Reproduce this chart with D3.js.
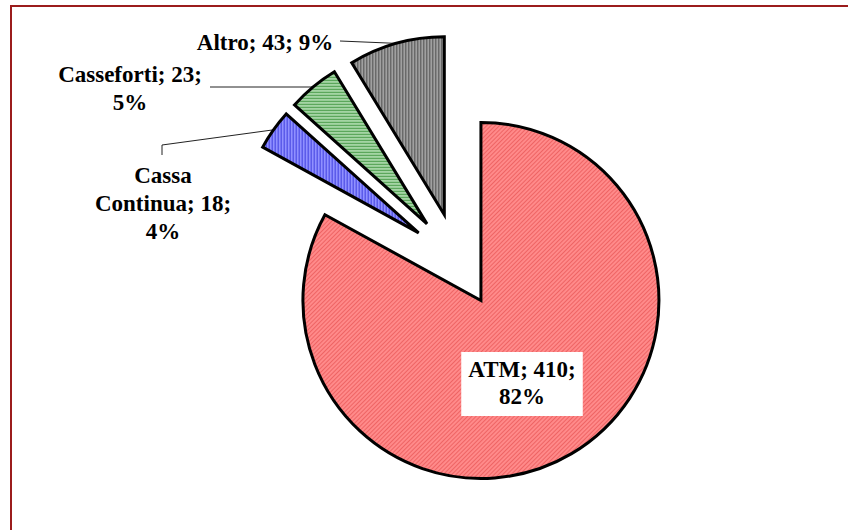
<!DOCTYPE html>
<html>
<head>
<meta charset="utf-8">
<script src="https://cdn.jsdelivr.net/npm/d3@7"></script>
<style>
  body { margin: 0; background: #fff; }
  svg { display: block; }
  .lbl { font-family: "Liberation Serif", "Times New Roman", serif; font-weight: bold; font-size: 23px; fill: #000; }
</style>
</head>
<body>
<svg id="chart"></svg>
<script>
const categories = ["ATM", "Cassa Continua", "Casseforti", "Altro"];
const values = [410, 18, 23, 43];
const percentLabels = ["82%", "4%", "5%", "9%"];

const W = 848, H = 530;
const cx = 457, cy = 260, radius = 178, explode = 47;

const svg = d3.select("#chart").attr("width", W).attr("height", H);

// hatch patterns, one per slice
const defs = svg.append("defs");
const addPattern = (id, base, line, dir) => {
  const p = defs.append("pattern")
    .attr("id", id)
    .attr("patternUnits", "userSpaceOnUse")
    .attr("width", 3).attr("height", 3);
  if (dir === "diag") p.attr("patternTransform", "rotate(45)");
  p.append("rect").attr("width", 3).attr("height", 3).attr("fill", base);
  if (dir === "h") {
    p.append("rect").attr("width", 3).attr("height", 1).attr("fill", line);
  } else {
    p.append("rect").attr("width", 1).attr("height", 3).attr("fill", line);
  }
};
addPattern("pat0", "#ff8a8a", "#ee6464", "diag");
addPattern("pat1", "#9090ff", "#4040e0", "v");
addPattern("pat2", "#a4d4a4", "#4f9f4f", "h");
addPattern("pat3", "#a0a0a0", "#505050", "v");

// frame
svg.append("rect")
  .attr("x", 11).attr("y", 6)
  .attr("width", W).attr("height", H)
  .attr("fill", "none")
  .attr("stroke", "#9b1c1c")
  .attr("stroke-width", 2);

const pie = d3.pie().sort(null).value((d) => d)(values);
const arc = d3.arc().innerRadius(0).outerRadius(radius);

const offsetOf = (d) => {
  const a = (d.startAngle + d.endAngle) / 2;
  return [cx + explode * Math.sin(a), cy - explode * Math.cos(a)];
};
const outerMid = (d) => {
  const a = (d.startAngle + d.endAngle) / 2;
  const o = offsetOf(d);
  return [o[0] + radius * Math.sin(a), o[1] - radius * Math.cos(a)];
};

// leader lines (drawn under the slices)
const leaders = [
  null,
  (p) => [[162, 155], [162, 145], p],
  (p) => [[210, 87], [p[0], 87]],
  (p) => [[340, 41], p]
];
pie.forEach((d, i) => {
  if (!leaders[i]) return;
  svg.append("path")
    .attr("d", d3.line()(leaders[i](outerMid(d))))
    .attr("fill", "none")
    .attr("stroke", "#222")
    .attr("stroke-width", 1);
});

svg.selectAll(".slice")
  .data(pie)
  .enter()
  .append("path")
  .attr("class", "slice")
  .attr("transform", (d) => "translate(" + offsetOf(d).join(",") + ")")
  .attr("d", arc)
  .attr("fill", (d, i) => "url(#pat" + i + ")")
  .attr("stroke", "#000")
  .attr("stroke-width", 3)
  .attr("stroke-linejoin", "miter");

// data labels
const labelLines = [
  [categories[0] + "; " + values[0] + ";", percentLabels[0]],
  ["Cassa", "Continua; " + values[1] + ";", percentLabels[1]],
  [categories[2] + "; " + values[2] + ";", percentLabels[2]],
  [categories[3] + "; " + values[3] + "; " + percentLabels[3]]
];
const labelPos = [[522, 377], [163, 183], [130, 82], [265, 50]];
const lineGap = 28;

labelLines.forEach((lines, i) => {
  const g = svg.append("g");
  const t = g.append("text")
    .attr("class", "lbl")
    .attr("text-anchor", "middle");
  lines.forEach((s, j) => {
    t.append("tspan")
      .attr("x", labelPos[i][0])
      .attr("y", labelPos[i][1] + j * (i === 0 ? 27 : lineGap))
      .text(s);
  });
  if (i === 0) {
    const b = t.node().getBBox();
    g.insert("rect", "text")
      .attr("x", b.x - 7).attr("y", b.y - 5)
      .attr("width", b.width + 14).attr("height", b.height + 12)
      .attr("fill", "#fff");
  }
});
</script>
</body>
</html>
